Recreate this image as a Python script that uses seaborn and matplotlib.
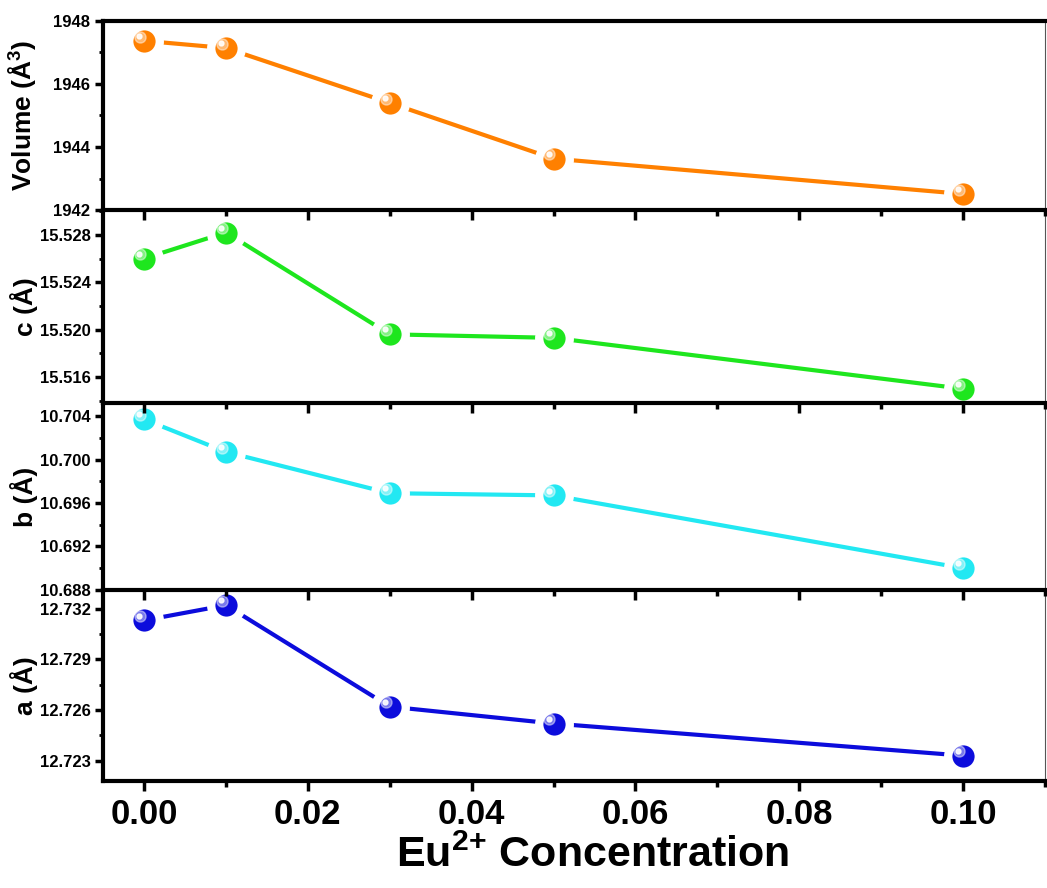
import matplotlib
matplotlib.use("Agg")
import matplotlib.pyplot as plt
import matplotlib.transforms as mtransforms
from matplotlib.ticker import MultipleLocator, FormatStrFormatter
import seaborn as sns
import numpy as np

sns.set_theme(style="white")
plt.rcParams["font.family"] = ["Liberation Sans", "DejaVu Sans"]
plt.rcParams["font.weight"] = "bold"
plt.rcParams["mathtext.fontset"] = "custom"
plt.rcParams["mathtext.rm"] = "Liberation Sans:bold"
plt.rcParams["mathtext.bf"] = "Liberation Sans:bold"
plt.rcParams["mathtext.it"] = "Liberation Sans:bold"
for k in ["text.color", "axes.labelcolor", "xtick.color", "ytick.color"]:
    plt.rcParams[k] = "black"

# data
conc = [0.00, 0.01, 0.03, 0.05, 0.10]
volume = [1947.37, 1947.14, 1945.40, 1943.63, 1942.51]
c_param = [15.5260, 15.5282, 15.5196, 15.5193, 15.5150]
b_param = [10.7037, 10.7007, 10.6969, 10.6967, 10.6900]
a_param = [12.7313, 12.7322, 12.7262, 12.7252, 12.7233]

panels = [
    ("Volume (Å$^{3}$)", volume, "#FF8000", (1942, 1948), 2, 1, "%d"),
    ("c (Å)", c_param, "#1EE61E", (15.5138, 15.5301), 0.004, 0.002, "%.3f"),
    ("b (Å)", b_param, "#22E8F2", (10.688, 10.7052), 0.004, 0.002, "%.3f"),
    ("a (Å)", a_param, "#0C0CDC", (12.7218, 12.7331), 0.003, 0.0015, "%.3f"),
]

fig = plt.figure(figsize=(10.47, 8.88), dpi=100)
bounds = [(0.9764, 0.7635), (0.7635, 0.5462), (0.5462, 0.3356), (0.3356, 0.1205)]
left, right = 103 / 1047, 1045 / 1047

for i, ((label, vals, col, ylim, major, minor, fmt), (top, bot)) in enumerate(zip(panels, bounds)):
    ax = fig.add_axes([left, bot, right - left, top - bot])
    ax.set_facecolor("none")
    ax.set_zorder(4 - i)  # upper panels on top so their bottom spine stays visible
    sns.lineplot(x=conc, y=vals, ax=ax, color=col, lw=3, marker="o", markersize=22,
                 markerfacecolor=col, markeredgecolor="white", markeredgewidth=6,
                 zorder=2)
    # sphere highlight
    off = mtransforms.ScaledTranslation(-3 / 72, 3 / 72, fig.dpi_scale_trans)
    ax.plot(conc, vals, ls="none", marker="o", markersize=8, color="white",
            alpha=0.45, transform=ax.transData + off, zorder=3)
    off2 = mtransforms.ScaledTranslation(-3.5 / 72, 3.5 / 72, fig.dpi_scale_trans)
    ax.plot(conc, vals, ls="none", marker="o", markersize=3.5, color="white",
            alpha=0.9, transform=ax.transData + off2, zorder=3)

    ax.set_xlim(-0.005, 0.110)
    ax.set_ylim(*ylim)
    ax.yaxis.set_major_locator(MultipleLocator(major))
    ax.yaxis.set_minor_locator(MultipleLocator(minor))
    ax.yaxis.set_major_formatter(FormatStrFormatter(fmt))
    ax.xaxis.set_major_locator(MultipleLocator(0.02))
    ax.xaxis.set_minor_locator(MultipleLocator(0.01))
    ax.xaxis.set_major_formatter(FormatStrFormatter("%.2f"))
    ax.tick_params(axis="y", which="major", direction="out", length=6, width=2.5,
                   labelsize=12, left=True, pad=3)
    ax.tick_params(axis="y", which="minor", direction="out", length=3, width=2, left=True)
    ax.tick_params(axis="x", which="major", direction="out", length=7, width=2.5,
                   labelsize=25, bottom=True, pad=5)
    ax.tick_params(axis="x", which="minor", direction="out", length=4, width=2.5, bottom=True)
    for s in ["left", "bottom"]:
        ax.spines[s].set_linewidth(3)
        ax.spines[s].set_color("black")
    ax.spines["top"].set_linewidth(3 if i == 0 else 0)
    ax.spines["top"].set_color("black")
    ax.spines["right"].set_linewidth(0.8)
    ax.spines["right"].set_color("#555555")
    for t in ax.get_yticklabels() + ax.get_xticklabels():
        t.set_fontweight("bold")
    ax.set_ylabel(label, fontsize=19, fontweight="bold")
    ax.yaxis.set_label_coords(-0.069, 0.5)
    if i < 3:
        ax.tick_params(axis="x", labelbottom=False)
        ax.set_xlabel("")
    else:
        ax.set_xlabel("Eu$^{2{+}}$ Concentration", fontsize=31, fontweight="bold")
        ax.xaxis.set_label_coords(0.52, -0.285)

fig.savefig("out.png", dpi=100)
plt.close(fig)
